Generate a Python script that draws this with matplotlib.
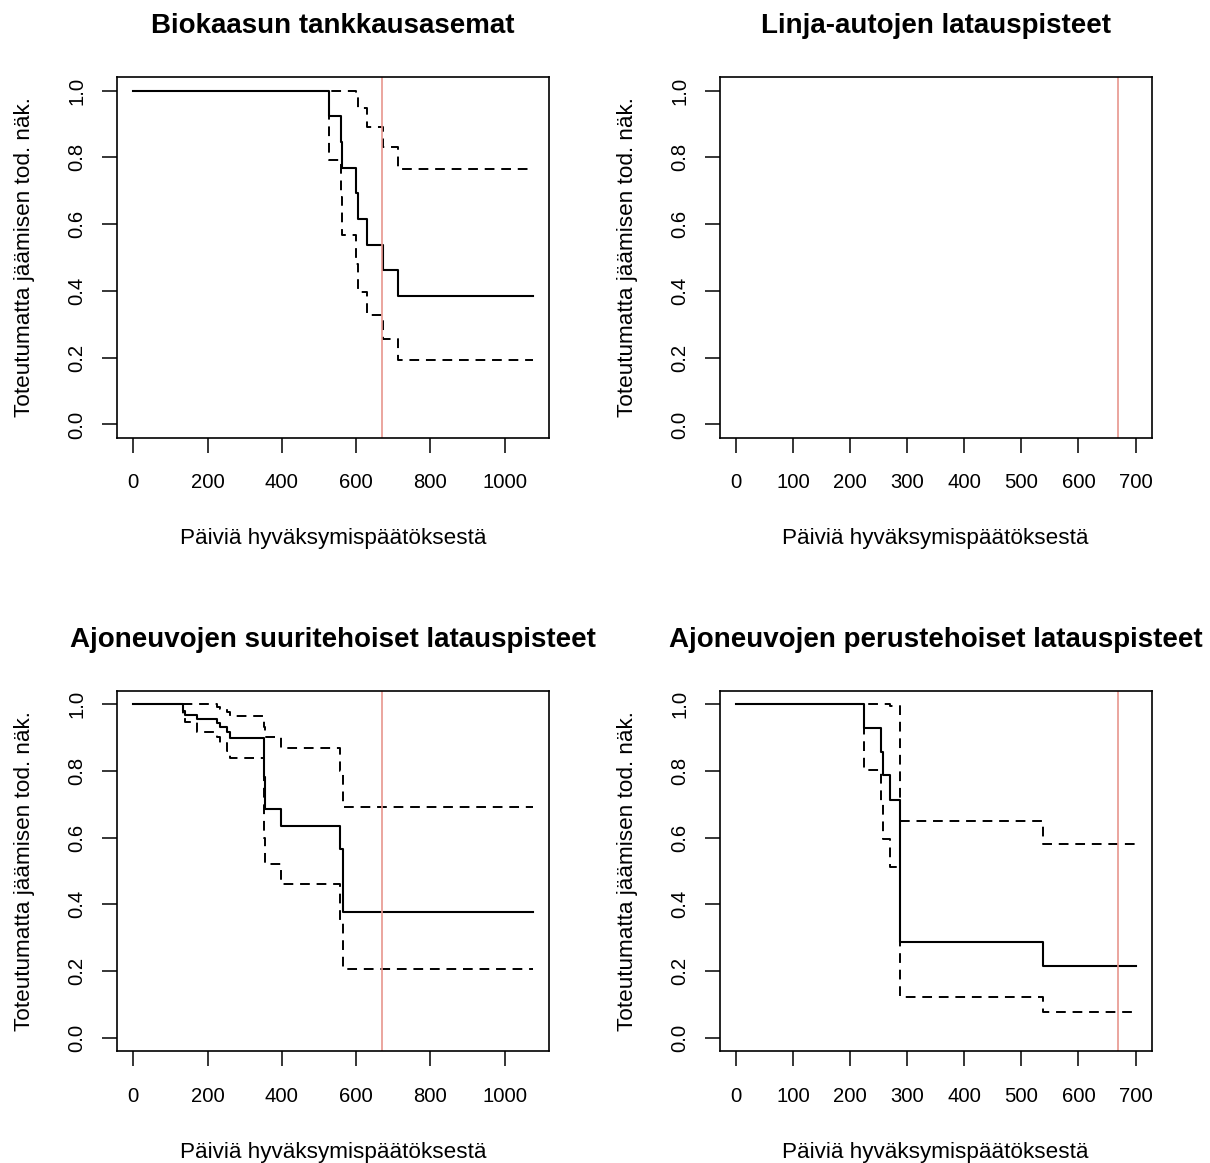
import matplotlib
matplotlib.use("Agg")
import matplotlib.pyplot as plt

plt.rcParams['font.family'] = ['Liberation Sans', 'DejaVu Sans']

# Kaplan-Meier estimates
bio_t = [0, 526, 559, 561, 601, 605, 630, 672, 712, 1076]
bio_s = [1, 0.923, 0.846, 0.769, 0.692, 0.615, 0.538, 0.462, 0.385, 0.385]
bio_hi = [1, 1, 1, 1, 0.988, 0.948, 0.89, 0.83, 0.766, 0.766]
bio_lo = [1, 0.793, 0.68, 0.567, 0.48, 0.397, 0.327, 0.257, 0.192, 0.192]

hp_t = [0, 135, 139, 171, 225, 234, 252, 261, 351, 355, 398, 558, 565, 1076]
hp_s = [1, 0.98, 0.967, 0.954, 0.942, 0.93, 0.917, 0.899, 0.78, 0.687, 0.635, 0.567, 0.376, 0.376]
hp_hi = [1, 1, 1, 1, 0.99, 0.985, 0.975, 0.964, 0.93, 0.902, 0.867, 0.8, 0.692, 0.692]
hp_lo = [1, 0.96, 0.945, 0.915, 0.9, 0.882, 0.86, 0.837, 0.6, 0.522, 0.462, 0.35, 0.206, 0.206]

bp_t = [0, 225, 254, 257, 270, 288, 538, 700]
bp_s = [1, 0.929, 0.857, 0.786, 0.714, 0.286, 0.214, 0.214]
bp_hi = [1, 1, 1, 1, 0.994, 0.65, 0.582, 0.582]
bp_lo = [1, 0.802, 0.70, 0.597, 0.511, 0.123, 0.076, 0.076]

cutoff = 670
titles = ["Biokaasun tankkausasemat", "Linja-autojen latauspisteet",
          "Ajoneuvojen suuritehoiset latauspisteet", "Ajoneuvojen perustehoiset latauspisteet"]
xlab = "Päiviä hyväksymispäätöksestä"
ylab = "Toteutumatta jäämisen tod. näk."
y_ticks = [0, 0.2, 0.4, 0.6, 0.8, 1.0]

fig = plt.figure(figsize=(12.1, 11.63), dpi=100)
W, H = 1210, 1163
boxes = [(117.3, 77.3), (720, 77.3), (117.3, 690.7), (720, 690.7)]
axs = [fig.add_axes([x / W, 1 - (y + 360.5) / H, 431.5 / W, 360.5 / H]) for x, y in boxes]

curves = [(bio_t, bio_s, bio_hi, bio_lo), None, (hp_t, hp_s, hp_hi, hp_lo), (bp_t, bp_s, bp_hi, bp_lo)]
ranges = [1076, 700, 1076, 700]
xticks = [range(0, 1001, 200), range(0, 701, 100), range(0, 1001, 200), range(0, 701, 100)]

for ax, title, c, L, xt in zip(axs, titles, curves, ranges, xticks):
    if c is not None:
        t, s, hi, lo = c
        ax.step(t, s, where='post', color='black', lw=1.5)
        ax.step(t, hi, where='post', color='black', lw=1.4, linestyle=(0, (5, 3.5)))
        ax.step(t, lo, where='post', color='black', lw=1.4, linestyle=(0, (5, 3.5)))
    ax.axvline(cutoff, color='#E8968E', lw=1.2)
    ax.set_xlim(-0.04 * L, 1.04 * L)
    ax.set_ylim(-0.04, 1.04)
    ax.set_xticks(list(xt), [str(v) for v in xt])
    ax.set_yticks(y_ticks, ["%.1f" % v for v in y_ticks], rotation=90, va='center')
    ax.tick_params(direction='out', length=11, width=1.1, labelsize=14.6, color='black')
    ax.tick_params(axis='x', pad=14.5)
    ax.tick_params(axis='y', pad=11)
    for sp in ax.spines.values():
        sp.set_linewidth(1.2)
    ax.set_title(title, fontsize=20, fontweight='bold', pad=31.7)
    ax.text(0.5, -0.28, xlab, transform=ax.transAxes, ha='center', va='center', fontsize=16.2)
    ax.text(-0.214, 0.5, ylab, transform=ax.transAxes, ha='center', va='center',
            rotation=90, fontsize=16.2)

fig.savefig("out.png", dpi=100)
